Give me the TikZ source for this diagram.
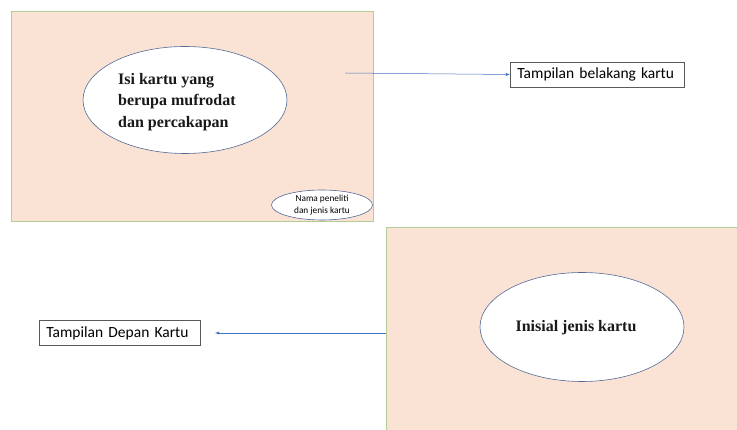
\documentclass[tikz,border=0pt]{standalone}
\usepackage{fontspec}
\setmainfont{Liberation Serif}
\newfontfamily\calib{Carlito}
\usetikzlibrary{shapes.geometric,arrows.meta}
\definecolor{cardfill}{RGB}{250,227,213}
\definecolor{cardedge}{RGB}{180,205,150}
\definecolor{elledge}{RGB}{85,105,150}
\definecolor{arrowblue}{RGB}{68,114,196}
\definecolor{boxedge}{RGB}{90,90,90}
\tikzset{
  card/.style={fill=cardfill,draw=cardedge,line width=0.8pt},
  bigell/.style={ellipse,draw=elledge,fill=white,line width=0.6pt,inner sep=0pt},
  labelbox/.style={draw=boxedge,line width=0.7pt,fill=white,font=\calib\fontsize{15.5}{18}\selectfont,inner xsep=7pt,inner ysep=0pt,minimum height=25pt,anchor=west,align=left},
  conn/.style={draw=arrowblue,line width=0.5pt,-{Latex[length=4pt,width=3pt]}},
  boldtxt/.style={font=\bfseries\fontsize{16}{21.5}\selectfont,text=black!90}
}
\begin{document}
\begin{tikzpicture}[x=1pt,y=-1pt]
\useasboundingbox (0,0) rectangle (737,430);
% top card
\node[card,minimum width=362pt,minimum height=210pt,inner sep=0pt,anchor=north west] (topcard) at (11,11) {};
\node[bigell,minimum width=204pt,minimum height=107pt] (isi) at (185,100) {};
\node[boldtxt,align=left,anchor=west,inner sep=0pt] (isitxt) at (118,102) {Isi kartu yang\\berupa mufrodat\\dan percakapan};
\node[bigell,minimum width=101pt,minimum height=30pt] (nama) at (322,205) {};
\node[font=\calib\fontsize{9.3}{12}\selectfont,align=center] (namatxt) at (322,205) {Nama peneliti\\dan jenis kartu};
% back label
\coordinate (topstart) at (345,73);
\node[labelbox,text width=160pt] (belakang) at (510,74.5) {Tampilan belakang kartu};
\draw[conn] (topstart) -- (belakang.west);
% bottom card
\fill[cardfill] (386,227) rectangle (737,430);
\draw[cardedge,line width=0.8pt] (386,430) -- (386,227) -- (737,227);
\coordinate (botcardw) at (386,333);
\node[bigell,minimum width=204pt,minimum height=109pt] (inisial) at (582,327) {};
\node[boldtxt] (inisialtxt) at (576,328) {Inisial jenis kartu};
% front label
\node[labelbox,text width=147pt] (depan) at (39,333) {Tampilan Depan Kartu};
\coordinate (botend) at (215,333);
\draw[conn] (botcardw) -- (botend);
\end{tikzpicture}
\end{document}
